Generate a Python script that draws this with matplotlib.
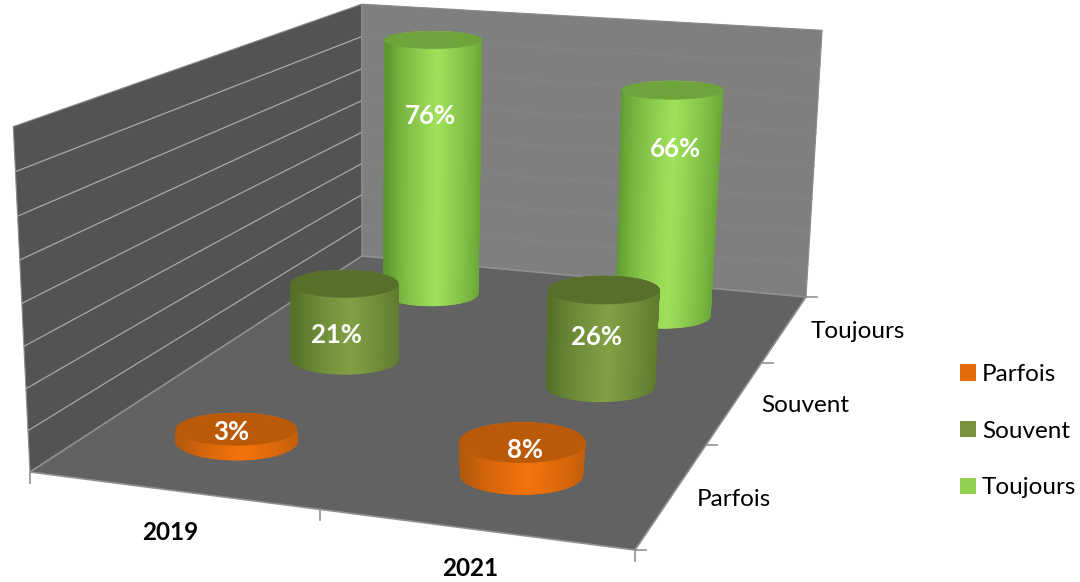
import numpy as np
import matplotlib
matplotlib.use('Agg')
import matplotlib.pyplot as plt
from matplotlib.patches import Polygon, Patch

plt.rcParams['font.family'] = ['Lato', 'DejaVu Sans']

# data
years = ['2019', '2021']
series = ['Parfois', 'Souvent', 'Toujours']
parfois = [3, 8]
souvent = [21, 26]
toujours = [76, 66]
axis_max = 80
grid_step = 10

# colours (edge, bright, top) for each series
colours = {
    'Parfois': ('#b5590d', '#f5730a', '#ba5a08'),
    'Souvent': ('#54702a', '#82a044', '#586f2c'),
    'Toujours': ('#5d9730', '#a0e25a', '#6fa43c'),
}
legend_colours = ['#e36c09', '#77933c', '#92d050']

# screen position of the plot box, pixels
floor_px = [(30, 472), (635, 550), (806, 297), (362, 256)]
top_px = [(13, 127), (362, 6), (822, 28)]
top_uv = [(0, 0), (0, 1), (1, 1)]

# half width and half height of the cylinder base on screen, pixels
base_radius = {'Parfois': (61, 19), 'Souvent': (54, 15), 'Toujours': (47, 12)}
# same for the top ellipse, it opens up the lower it sits
top_radius = {
    ('Toujours', 0): (48.5, 8.5), ('Toujours', 1): (50.5, 9),
    ('Souvent', 0): (53.5, 13.5), ('Souvent', 1): (55.5, 14),
    ('Parfois', 0): (60, 16), ('Parfois', 1): (63, 20),
}

# label centres, pixels
label_xy = {
    ('Toujours', 0): (430, 116), ('Toujours', 1): (675, 149),
    ('Souvent', 0): (336, 335), ('Souvent', 1): (596, 337),
    ('Parfois', 0): (231, 432), ('Parfois', 1): (525, 450),
}


def floor_matrix():
    # homography from the unit floor square to the screen
    uv = [(0, 0), (1, 0), (1, 1), (0, 1)]
    rows = []
    for (u, v), (x, y) in zip(uv, floor_px):
        rows.append([u, v, 1, 0, 0, 0, -x * u, -x * v, -x])
        rows.append([0, 0, 0, u, v, 1, -y * u, -y * v, -y])
    _, _, vt = np.linalg.svd(np.array(rows, float))
    m = vt[-1].reshape(3, 3)
    return m / m[2, 2]


H = floor_matrix()


def height_column():
    # what one full axis height adds in homogeneous coordinates
    rows, rhs = [], []
    for (u, v), (x, y) in zip(top_uv, top_px):
        q = H @ np.array([u, v, 1.0])
        rows.append([1, 0, -x])
        rhs.append(x * q[2] - q[0])
        rows.append([0, 1, -y])
        rhs.append(y * q[2] - q[1])
    return np.linalg.lstsq(np.array(rows), np.array(rhs), rcond=None)[0]


C = height_column()


def project(u, v, z=0.0):
    p = H @ np.array([u, v, 1.0]) + C * (z / axis_max)
    return p[0] / p[2], p[1] / p[2]


def ellipse(cx, cy, rx, ry, theta):
    return np.column_stack([cx + rx * np.cos(theta), cy + ry * np.sin(theta)])


def mix(c1, c2, t):
    a = np.array(matplotlib.colors.to_rgb(c1))
    b = np.array(matplotlib.colors.to_rgb(c2))
    return tuple(a + (b - a) * t)


def draw_cylinder(ax, i, j, value, name):
    edge, bright, top = colours[name]
    cu = (i + 0.5) / len(years)
    cv = (j + 0.5) / len(series)
    theta = np.linspace(0, 2 * np.pi, 181)
    base = ellipse(*project(cu, cv, 0), *base_radius[name], theta)
    head = ellipse(*project(cu, cv, value), *top_radius[(name, i)], theta)
    xmin, xmax = min(base[:, 0].min(), head[:, 0].min()), max(base[:, 0].max(), head[:, 0].max())
    # back facets first, then the front ones
    order = np.argsort(np.sin(theta[:-1]))
    for k in order:
        quad = [base[k], base[k + 1], head[k + 1], head[k]]
        s = (0.5 * (head[k][0] + head[k + 1][0]) - xmin) / (xmax - xmin)
        t = np.clip(1 - abs(s - 0.55) / 0.5, 0, 1) ** 0.7
        c = mix(edge, bright, t)
        ax.add_patch(Polygon(quad, closed=True, fc=c, ec=c, lw=0.6, zorder=3 + (2 - j) + 0.1 * i))
    ax.add_patch(Polygon(head, closed=True, fc=top, ec=top, lw=0.5, zorder=3.05 + (2 - j) + 0.1 * i))


fig = plt.figure(figsize=(10.8, 5.82), dpi=100)
ax = fig.add_axes([0, 0, 1, 1])
ax.set_xlim(0, 1080)
ax.set_ylim(582, 0)
ax.axis('off')

# walls and floor
left_wall = [project(0, 0), project(0, 1), project(0, 1, axis_max), project(0, 0, axis_max)]
back_wall = [project(0, 1), project(1, 1), project(1, 1, axis_max), project(0, 1, axis_max)]
floor = [project(0, 0), project(1, 0), project(1, 1), project(0, 1)]
ax.add_patch(Polygon(left_wall, closed=True, fc='#535353', ec='#8c8c8c', lw=0.8, zorder=1))
ax.add_patch(Polygon(back_wall, closed=True, fc='#7f7f7f', ec='#8c8c8c', lw=0.8, zorder=1))
ax.add_patch(Polygon(floor, closed=True, fc='#626262', ec='#909090', lw=1.2, zorder=1.2))

# gridlines
for g in range(grid_step, axis_max, grid_step):
    a, b, c = project(0, 0, g), project(0, 1, g), project(1, 1, g)
    ax.plot([a[0], b[0]], [a[1], b[1]], color='#a8a8a8', lw=0.9, zorder=1.1)
    ax.plot([b[0], c[0]], [b[1], c[1]], color='#848484', lw=0.9, zorder=1.1)

# ticks
for i in range(len(years) + 1):
    x, y = project(i / len(years), 0)
    ax.plot([x, x], [y, y + 11], color='#909090', lw=1.2, zorder=1.3)
for j in range(len(series) + 1):
    x, y = project(1, j / len(series))
    ax.plot([x, x + 11], [y, y], color='#909090', lw=1.2, zorder=1.3)

# cylinders
values = {'Parfois': parfois, 'Souvent': souvent, 'Toujours': toujours}
for j, name in enumerate(series):
    for i in range(len(years)):
        draw_cylinder(ax, i, j, values[name][i], name)
        lx, ly = label_xy[(name, i)]
        ax.text(lx, ly, f'{values[name][i]}%', color='white', fontsize=18.5, fontweight='bold',
                ha='center', va='center', zorder=10)

# axis labels
ax.text(170, 533, years[0], fontsize=17.5, fontweight='bold', ha='center', va='center')
ax.text(470, 568, years[1], fontsize=17.5, fontweight='bold', ha='center', va='center')
ax.text(734, 500, series[0], fontsize=17.5, ha='center', va='center')
ax.text(805, 405, series[1], fontsize=17.5, ha='center', va='center')
ax.text(858, 332, series[2], fontsize=17.5, ha='center', va='center')

# legend
handles = [Patch(fc=c, ec='none') for c in legend_colours]
leg = ax.legend(handles, series, loc='upper left', bbox_to_anchor=(960 / 1080, 1 - 364 / 582),
                frameon=False, fontsize=17.5, handlelength=0.66, handleheight=0.66,
                handletextpad=0.25, labelspacing=1.47, borderpad=0, borderaxespad=0)

fig.savefig('out.png', dpi=100)
